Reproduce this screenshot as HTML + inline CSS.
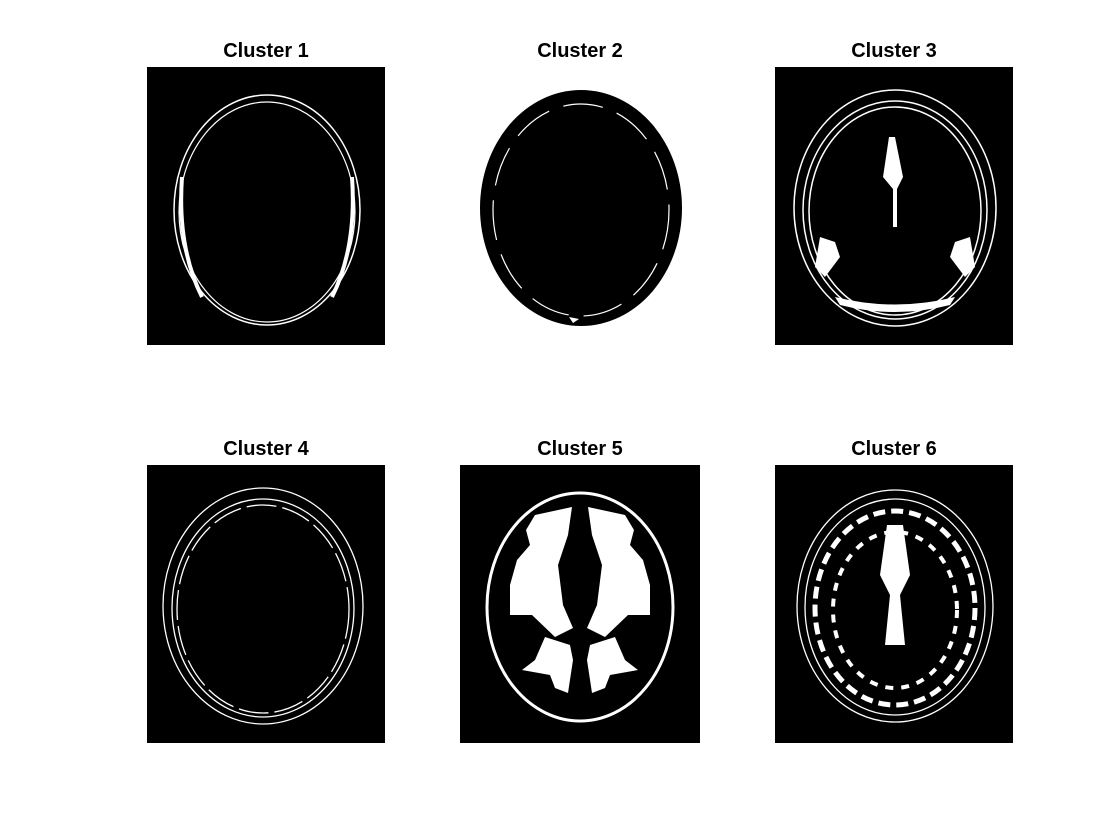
<!DOCTYPE html>
<html><head><meta charset="utf-8"><style>
body{margin:0;background:#fff;}
svg{display:block;font-family:"Liberation Sans",Arial,sans-serif;}
</style></head><body>
<svg width="1120" height="840" viewBox="0 0 1120 840">
<rect width="1120" height="840" fill="#fff"/>
<defs>
<g id="lobeL">
<path d="M75,50 L112,42 L108,70 L98,100 L103,140 L113,163 L95,172 L72,150 L50,150 L50,120 L57,95 L70,80 L66,65 Z"/>
<path d="M85,172 L110,180 L113,195 L108,228 L95,223 L90,210 L62,205 L75,195 Z"/>
</g>
</defs>

<g>
<text x="266" y="57" text-anchor="middle" font-size="20" font-weight="bold">Cluster 1</text>
<g transform="translate(147,67)">
<rect width="238" height="278" fill="#000"/>
<ellipse cx="120" cy="143" rx="93" ry="115" fill="none" stroke="#fff" stroke-width="1.5"/>
<ellipse cx="120" cy="145" rx="88" ry="110" fill="none" stroke="#fff" stroke-width="1.2"/>
<path d="M35,110 Q30,180 55,230" fill="none" stroke="#fff" stroke-width="4"/>
<path d="M205,110 Q210,180 185,230" fill="none" stroke="#fff" stroke-width="4"/>
</g></g>

<g>
<text x="580" y="57" text-anchor="middle" font-size="20" font-weight="bold">Cluster 2</text>
<g transform="translate(461,67)">
<ellipse cx="120" cy="141" rx="101" ry="118" fill="#000"/>
<ellipse cx="120" cy="143" rx="88" ry="106" fill="none" stroke="#fff" stroke-width="1.2" stroke-dasharray="40 15"/>
<path d="M108,250 L118,252 L112,256 Z" fill="#fff"/>
</g></g>

<g>
<text x="894" y="57" text-anchor="middle" font-size="20" font-weight="bold">Cluster 3</text>
<g transform="translate(775,67)">
<rect width="238" height="278" fill="#000"/>
<ellipse cx="120" cy="141" rx="101" ry="118" fill="none" stroke="#fff" stroke-width="1.5"/>
<ellipse cx="120" cy="143" rx="92" ry="109" fill="none" stroke="#fff" stroke-width="1.5"/>
<ellipse cx="120" cy="144" rx="86" ry="104" fill="none" stroke="#fff" stroke-width="1.5"/>
<path d="M114,70 L120,70 L128,110 L122,122 L122,160 L118,160 L118,122 L108,110 Z" fill="#fff"/>
<path d="M45,170 L60,175 L65,190 L50,210 L40,200 Z M195,170 L180,175 L175,190 L190,210 L200,200 Z" fill="#fff"/>
<path d="M60,230 Q120,245 180,230 L175,238 Q120,252 65,238 Z" fill="#fff"/>
</g></g>

<g>
<text x="266" y="455" text-anchor="middle" font-size="20" font-weight="bold">Cluster 4</text>
<g transform="translate(147,465)">
<rect width="238" height="278" fill="#000"/>
<ellipse cx="116" cy="141" rx="100" ry="118" fill="none" stroke="#fff" stroke-width="1.3"/>
<ellipse cx="116" cy="143" rx="91" ry="109" fill="none" stroke="#fff" stroke-width="1.3"/>
<ellipse cx="116" cy="144" rx="86" ry="104" fill="none" stroke="#fff" stroke-width="1.3" stroke-dasharray="30 6"/>
</g></g>

<g>
<text x="580" y="455" text-anchor="middle" font-size="20" font-weight="bold">Cluster 5</text>
<g transform="translate(460,465)">
<rect width="240" height="278" fill="#000"/>
<ellipse cx="120" cy="142" rx="93" ry="114" fill="none" stroke="#fff" stroke-width="3"/>
<g fill="#fff"><use href="#lobeL"/><use href="#lobeL" transform="translate(240,0) scale(-1,1)"/></g>
</g></g>

<g>
<text x="894" y="455" text-anchor="middle" font-size="20" font-weight="bold">Cluster 6</text>
<g transform="translate(775,465)">
<rect width="238" height="278" fill="#000"/>
<ellipse cx="120" cy="141" rx="98" ry="116" fill="none" stroke="#fff" stroke-width="1.3"/>
<ellipse cx="120" cy="142" rx="90" ry="108" fill="none" stroke="#fff" stroke-width="1.3"/>
<ellipse cx="120" cy="143" rx="80" ry="97" fill="none" stroke="#fff" stroke-width="5" stroke-dasharray="12 6"/>
<ellipse cx="120" cy="145" rx="62" ry="78" fill="none" stroke="#fff" stroke-width="4" stroke-dasharray="8 8"/>
<path d="M112,60 L128,60 L135,110 L125,130 L130,180 L110,180 L115,130 L105,110 Z" fill="#fff"/>
</g></g>
</svg>
</body></html>
